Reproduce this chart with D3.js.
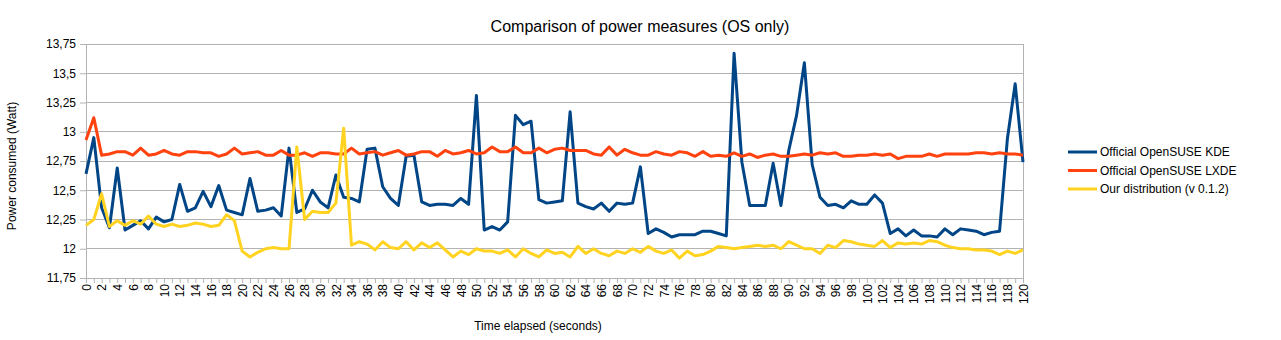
<!DOCTYPE html>
<html>
<head>
<meta charset="utf-8">
<script src="https://cdn.jsdelivr.net/npm/d3@7"></script>
<style>
  html, body { margin: 0; padding: 0; background: #fff; }
  svg { display: block; font-family: "Liberation Sans", Arial, sans-serif; }
</style>
</head>
<body>
<svg id="chart" width="1281" height="340"></svg>
<script>
const seconds = d3.range(0, 121);
const yTicks = [11.75, 12, 12.25, 12.5, 12.75, 13, 13.25, 13.5, 13.75];

const kde = [12.64,12.95,12.35,12.18,12.69,12.16,12.20,12.24,12.17,12.27,12.23,12.25,12.55,12.32,12.35,12.49,12.36,12.54,12.33,12.31,
12.29,12.60,12.32,12.33,12.35,12.28,12.86,12.31,12.34,12.50,12.40,12.35,12.63,12.44,12.43,12.40,12.85,12.86,12.53,12.43,
12.37,12.79,12.80,12.40,12.37,12.38,12.38,12.37,12.43,12.38,13.31,12.16,12.19,12.16,12.23,13.14,13.06,13.09,12.42,12.39,
12.40,12.41,13.17,12.39,12.36,12.34,12.39,12.32,12.39,12.38,12.39,12.70,12.13,12.17,12.14,12.10,12.12,12.12,12.12,12.15,
12.15,12.13,12.11,13.67,12.74,12.37,12.37,12.37,12.73,12.37,12.84,13.14,13.59,12.72,12.44,12.37,12.38,12.35,12.41,12.38,
12.38,12.46,12.39,12.13,12.17,12.11,12.16,12.11,12.11,12.10,12.17,12.12,12.17,12.16,12.15,12.12,12.14,12.15,12.94,13.41,12.74];

const lxde = [12.93,13.12,12.80,12.81,12.83,12.83,12.80,12.86,12.80,12.81,12.84,12.81,12.80,12.83,12.83,12.82,12.82,12.79,12.81,12.86,
12.81,12.82,12.83,12.80,12.80,12.84,12.80,12.80,12.82,12.79,12.82,12.82,12.81,12.81,12.86,12.81,12.82,12.83,12.80,12.82,
12.84,12.80,12.81,12.83,12.83,12.79,12.84,12.81,12.82,12.84,12.81,12.82,12.87,12.83,12.83,12.87,12.82,12.82,12.86,12.82,
12.85,12.86,12.84,12.84,12.84,12.81,12.80,12.87,12.80,12.85,12.82,12.80,12.80,12.83,12.81,12.80,12.83,12.82,12.79,12.83,
12.79,12.80,12.79,12.82,12.79,12.81,12.78,12.80,12.81,12.79,12.79,12.80,12.81,12.80,12.82,12.81,12.82,12.79,12.79,12.80,
12.80,12.81,12.80,12.81,12.77,12.79,12.79,12.79,12.81,12.79,12.81,12.81,12.81,12.81,12.82,12.82,12.81,12.82,12.81,12.81,12.80];

const ours = [12.20,12.25,12.47,12.19,12.24,12.20,12.24,12.21,12.28,12.21,12.19,12.21,12.19,12.20,12.22,12.21,12.19,12.20,12.29,12.24,
11.98,11.93,11.97,12.00,12.01,12.00,12.00,12.87,12.25,12.32,12.31,12.31,12.39,13.03,12.03,12.06,12.04,11.99,12.06,12.01,
12.00,12.06,11.99,12.05,12.01,12.05,11.99,11.93,11.98,11.95,12.00,11.98,11.98,11.96,11.99,11.93,12.00,11.96,11.93,11.99,
11.96,11.97,11.93,12.02,11.96,12.00,11.96,11.94,11.98,11.96,12.00,11.97,12.02,11.98,11.96,11.99,11.92,11.98,11.94,11.95,
11.98,12.02,12.01,12.00,12.01,12.02,12.03,12.02,12.03,12.00,12.06,12.03,12.00,12.00,11.96,12.03,12.01,12.07,12.06,12.04,
12.03,12.02,12.07,12.01,12.05,12.04,12.05,12.04,12.07,12.06,12.03,12.01,12.00,12.00,11.99,11.99,11.98,11.95,11.98,11.96,11.99];

const seriesNames = ["Official OpenSUSE KDE", "Official OpenSUSE LXDE", "Our distribution (v 0.1.2)"];
const seriesColors = ["#004586", "#ff420e", "#ffd320"];
const seriesData = [kde, lxde, ours];

const svg = d3.select("#chart");
const L = 86, R = 1023, T = 44, B = 278;
const x = d3.scaleLinear().domain([0, 120]).range([L, R]);
const y = d3.scaleLinear().domain([11.75, 13.75]).range([B, T]);
const grid = "#b3b3b3";
const fmt = v => String(v).replace(".", ",");

// title
svg.append("text").attr("x", 640).attr("y", 32).attr("text-anchor", "middle")
  .attr("font-size", 16).attr("fill", "#000").text("Comparison of power measures (OS only)");

// gridlines
svg.append("g").selectAll("line").data(yTicks).join("line")
  .attr("x1", L).attr("x2", R).attr("y1", d => y(d)).attr("y2", d => y(d))
  .attr("stroke", grid).attr("stroke-width", 1).attr("shape-rendering", "crispEdges");
svg.append("line").attr("x1", R).attr("x2", R).attr("y1", T).attr("y2", B)
  .attr("stroke", grid).attr("shape-rendering", "crispEdges");

// y axis
const yAxis = svg.append("g").attr("transform", `translate(${L},0)`)
  .call(d3.axisLeft(y).tickValues(yTicks).tickFormat(fmt).tickSizeInner(6).tickSizeOuter(0).tickPadding(4));
yAxis.select(".domain").attr("stroke", grid);
yAxis.selectAll(".tick line").attr("stroke", grid);
yAxis.selectAll("text").attr("font-size", 12).attr("fill", "#000")
  .attr("font-family", "Liberation Sans, Arial, sans-serif");

// x axis
const xAxis = svg.append("g").attr("transform", `translate(0,${B})`)
  .call(d3.axisBottom(x).tickValues(seconds).tickFormat(d => d % 2 === 0 ? d : "").tickSize(5));
xAxis.select(".domain").attr("stroke", grid);
xAxis.selectAll(".tick line").attr("stroke", grid);
xAxis.selectAll("text").attr("font-size", 12).attr("fill", "#000")
  .attr("font-family", "Liberation Sans, Arial, sans-serif")
  .attr("transform", "rotate(-90)").attr("text-anchor", "end")
  .attr("x", -6).attr("y", 0).attr("dy", "0.35em");

// axis titles
svg.append("text").attr("transform", "translate(16,166) rotate(-90)").attr("text-anchor", "middle")
  .attr("font-size", 12).attr("fill", "#000").text("Power consumed (Watt)");
svg.append("text").attr("x", 538).attr("y", 330).attr("text-anchor", "middle")
  .attr("font-size", 12).attr("fill", "#000").text("Time elapsed (seconds)");

// lines
const line = d3.line().x((d, i) => x(seconds[i])).y(d => y(d));
svg.append("g").selectAll("path").data(seriesData).join("path")
  .attr("d", d => line(d)).attr("fill", "none")
  .attr("stroke", (d, i) => seriesColors[i]).attr("stroke-width", 3)
  .attr("stroke-linejoin", "round");

// legend
const lg = svg.append("g").selectAll("g").data(seriesNames).join("g")
  .attr("transform", (d, i) => `translate(1068,${152 + i * 18.5})`);
lg.append("line").attr("x1", 0).attr("x2", 29).attr("y1", 0).attr("y2", 0)
  .attr("stroke", (d, i) => seriesColors[i]).attr("stroke-width", 3);
lg.append("text").attr("x", 32).attr("y", 0).attr("dy", "0.35em")
  .attr("font-size", 12).attr("fill", "#000").text(d => d);
</script>
</body>
</html>
